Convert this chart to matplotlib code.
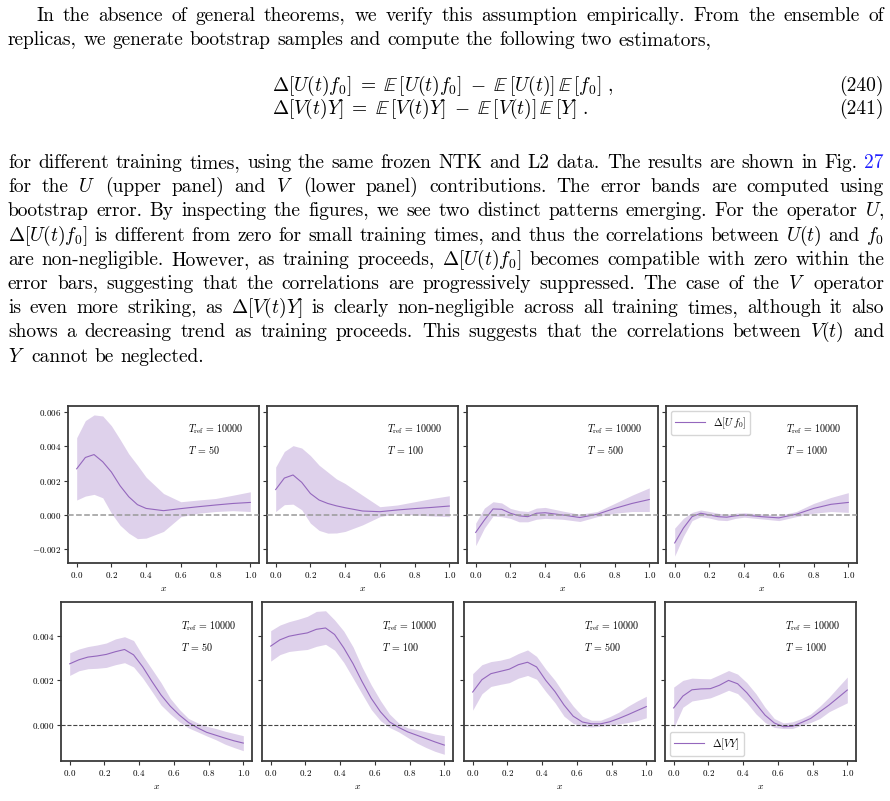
import matplotlib.pyplot as plt

plt.rcParams['font.family'] = 'cmr10'
plt.rcParams['mathtext.fontset'] = 'cm'
plt.rcParams['axes.formatter.use_mathtext'] = True

# ---- data ----
times = [50, 100, 500, 1000]

# upper row: Delta[U f0]
xu = [0.0, 0.05, 0.1, 0.15, 0.2, 0.25, 0.3, 0.35, 0.4, 0.5, 0.6, 0.7, 0.8, 0.9, 1.0]
u_mean = [
    [0.00269, 0.00335, 0.00352, 0.0031, 0.0025, 0.0017, 0.00106, 0.0006, 0.00038, 0.00025, 0.00037, 0.00048, 0.00058, 0.00067, 0.00073],
    [0.00148, 0.00215, 0.00233, 0.0019, 0.00125, 0.00087, 0.00067, 0.00053, 0.00042, 0.00023, 0.00019, 0.00029, 0.00037, 0.00044, 0.00052],
    [-0.00102, -0.0003, 0.00035, 0.00033, 0.0001, -0.00005, -0.0001, 0.0001, 0.00013, 0.0, -0.00015, 0.00004, 0.00038, 0.00067, 0.0009],
    [-0.00163, -0.00077, -0.0001, 0.0001, 0.0, -0.0001, -0.00013, -0.00005, 0.0, -0.0001, -0.00017, 0.00004, 0.00038, 0.00062, 0.00073],
]
u_up = [
    [0.0045, 0.0055, 0.00583, 0.00577, 0.0052, 0.0044, 0.00356, 0.0029, 0.0022, 0.00125, 0.00077, 0.00087, 0.00096, 0.00115, 0.00135],
    [0.00279, 0.0037, 0.00404, 0.0039, 0.00346, 0.0029, 0.0025, 0.0021, 0.00183, 0.00115, 0.00048, 0.00058, 0.00077, 0.00096, 0.00112],
    [-0.00048, 0.0004, 0.00077, 0.0007, 0.00038, 0.00025, 0.0002, 0.0004, 0.00044, 0.00023, 0.00004, 0.0002, 0.00067, 0.00115, 0.00158],
    [-0.00077, -0.0002, 0.00015, 0.00029, 0.0002, 0.0001, 0.00003, 0.0001, 0.00013, 0.00006, -0.00003, 0.0002, 0.00067, 0.00102, 0.0013],
]
u_lo = [
    [0.00087, 0.0011, 0.0012, 0.001, 0.0001, -0.0006, -0.00106, -0.00138, -0.00135, -0.00096, -0.0001, 0.0001, 0.0002, 0.00025, 0.0002],
    [0.0002, 0.0006, 0.00063, 0.0003, -0.00048, -0.0009, -0.00106, -0.00105, -0.00096, -0.00058, -0.0001, 0.0001, 0.0, -0.00006, -0.0001],
    [-0.00179, -0.00077, -0.00006, -0.0001, -0.0002, -0.0004, -0.0004, -0.00025, -0.0002, -0.00025, -0.00038, -0.0001, 0.0001, 0.0002, 0.0002],
    [-0.0024, -0.00125, -0.00033, -0.0001, -0.00018, -0.0003, -0.00033, -0.0002, -0.00013, -0.00023, -0.00033, -0.0001, 0.0001, 0.0002, 0.00015],
]

# lower row: Delta[V Y]
xv = [0.0, 0.053, 0.105, 0.158, 0.211, 0.263, 0.316, 0.368, 0.421, 0.474,
      0.526, 0.579, 0.632, 0.684, 0.737, 0.789, 0.842, 0.895, 0.947, 1.0]
v_mean = [
    [0.00274, 0.00292, 0.00304, 0.00309, 0.00316, 0.00328, 0.00338, 0.00314, 0.0026, 0.00195, 0.00135, 0.00085, 0.00045, 0.00012, -0.00012, -0.00032, -0.00045, -0.00058, -0.0007, -0.0008],
    [0.00353, 0.00381, 0.00397, 0.00405, 0.00412, 0.00428, 0.00434, 0.00405, 0.00345, 0.00275, 0.00195, 0.0012, 0.0006, 0.00015, -0.0001, -0.0003, -0.00045, -0.0006, -0.00075, -0.00089],
    [0.00148, 0.00203, 0.0023, 0.0024, 0.0025, 0.0027, 0.00281, 0.0026, 0.002, 0.0015, 0.0009, 0.0004, 0.00014, 0.00006, 0.00006, 0.00015, 0.0003, 0.00047, 0.00065, 0.00083],
    [0.00077, 0.0013, 0.00158, 0.00162, 0.00163, 0.00178, 0.002, 0.00185, 0.00145, 0.00095, 0.00045, 0.0001, -0.00007, -0.00005, 0.00012, 0.0003, 0.0006, 0.0009, 0.00123, 0.00157],
]
v_up = [
    [0.00323, 0.0034, 0.00351, 0.00358, 0.00367, 0.00385, 0.00395, 0.00378, 0.0031, 0.0025, 0.0019, 0.0012, 0.0007, 0.0003, 0.0001, -0.00005, -0.00015, -0.00027, -0.00037, -0.00047],
    [0.00422, 0.00447, 0.00462, 0.00473, 0.00486, 0.00508, 0.00511, 0.0047, 0.0042, 0.0035, 0.0026, 0.0018, 0.0011, 0.0005, 0.0001, -0.00012, -0.0002, -0.0003, -0.0004, -0.00047],
    [0.0023, 0.0027, 0.00284, 0.0029, 0.003, 0.0032, 0.00336, 0.00307, 0.0025, 0.002, 0.0014, 0.00085, 0.0004, 0.00022, 0.00022, 0.00038, 0.00058, 0.00085, 0.00108, 0.00129],
    [0.0017, 0.002, 0.0021, 0.00208, 0.00207, 0.00225, 0.00244, 0.00228, 0.0019, 0.0014, 0.0008, 0.0003, 0.0001, 0.00015, 0.0003, 0.0005, 0.00085, 0.00125, 0.0017, 0.00215],
]
v_lo = [
    [0.00222, 0.00243, 0.00252, 0.00254, 0.00258, 0.0027, 0.00279, 0.0026, 0.0021, 0.0015, 0.0009, 0.0005, 0.00015, -0.00012, -0.0003, -0.00048, -0.00065, -0.00085, -0.001, -0.00114],
    [0.00286, 0.00315, 0.00329, 0.00334, 0.00338, 0.00352, 0.00361, 0.00335, 0.0028, 0.0021, 0.0014, 0.0007, 0.0002, -0.0001, -0.0003, -0.00055, -0.0008, -0.001, -0.00117, -0.0013],
    [0.00067, 0.0014, 0.00173, 0.00182, 0.0019, 0.0021, 0.00222, 0.00205, 0.0015, 0.001, 0.0004, 0.00008, -0.00005, -0.00008, -0.00005, 0.0, 0.00005, 0.00012, 0.0002, 0.00033],
    [-0.00012, 0.0008, 0.00108, 0.00115, 0.00122, 0.00138, 0.00156, 0.00141, 0.001, 0.0005, 0.00012, -0.0001, -0.00015, -0.00015, 0.0, 0.00012, 0.0003, 0.0006, 0.0008, 0.001],
]

# ---- page text ----
para1 = [
    "In the absence of general theorems, we verify this assumption empirically. From the ensemble of",
    "replicas, we generate bootstrap samples and compute the following two estimators,",
]
equations = [
    (r"$\Delta[U(t)f_0] \;=\; \mathbb{E}\,[U(t)f_0] \;-\; \mathbb{E}\,[U(t)]\,\mathbb{E}\,[f_0]\ ,$", "(240)"),
    (r"$\Delta[V(t)Y] \;=\; \mathbb{E}\,[V(t)Y] \;-\; \mathbb{E}\,[V(t)]\,\mathbb{E}\,[Y]\ .$", "(241)"),
]
para2 = [
    "for different training times, using the same frozen NTK and L2 data. The results are shown in Fig. 27",
    r"for the $U$ (upper panel) and $V$ (lower panel) contributions. The error bands are computed using",
    r"bootstrap error. By inspecting the figures, we see two distinct patterns emerging. For the operator $U$,",
    r"$\Delta[U(t)f_0]$ is different from zero for small training times, and thus the correlations between $U(t)$ and $f_0$",
    r"are non-negligible. However, as training proceeds, $\Delta[U(t)f_0]$ becomes compatible with zero within the",
    r"error bars, suggesting that the correlations are progressively suppressed. The case of the $V$ operator",
    r"is even more striking, as $\Delta[V(t)Y]$ is clearly non-negligible across all training times, although it also",
    r"shows a decreasing trend as training proceeds. This suggests that the correlations between $V(t)$ and",
    r"$Y$ cannot be neglected.",
]

W, H = 890, 801
BODY = 14
LINK = '#2020ff'
PURPLE = '#9467bd'

fig = plt.figure(figsize=(W / 100, H / 100), dpi=100)
renderer = fig.canvas.get_renderer()


def fx(px):
    return px / W


def fy(py):
    return 1 - py / H


def text_line(line, y, x0, x1, justify):
    words = line.split(' ')
    objs = [fig.text(fx(x0), fy(y), w, fontsize=BODY, va='baseline',
                     color=LINK if w == '27' else 'black') for w in words]
    widths = [o.get_window_extent(renderer).width for o in objs]
    space = BODY * 100 / 72 * 0.333
    if justify and len(objs) > 1:
        space = (x1 - x0 - sum(widths)) / (len(objs) - 1)
    x = x0
    for o, w in zip(objs, widths):
        o.set_x(fx(x))
        x += w + space


text_line(para1[0], 21, 36, 884, True)
text_line(para1[1], 45, 8, 884, False)
for (eq, num), y in zip(equations, [91, 114]):
    fig.text(fx(272), fy(y), eq, fontsize=BODY, va='baseline')
    fig.text(fx(884), fy(y), num, fontsize=BODY, va='baseline', ha='right')
for i, line in enumerate(para2):
    text_line(line, 168 + i * 24.2, 8, 884, i < len(para2) - 1)


# ---- panels ----
def style(ax, zero_kw):
    ax.axhline(0, **zero_kw)
    ax.set_xlim(-0.05, 1.05)
    ax.set_xticks([0, 0.2, 0.4, 0.6, 0.8, 1.0])
    ax.set_xlabel('$x$', fontsize=7, labelpad=3)
    ax.tick_params(labelsize=6.5, length=3, width=0.8, color='#333333', pad=2)
    for s in ax.spines.values():
        s.set_linewidth(1.3)
        s.set_color('#3a3a3a')


rows = [
    (xu, u_mean, u_up, u_lo, [68, 267, 467, 666], 406, 563, (-0.0028, 0.00635),
     [-0.002, 0, 0.002, 0.004, 0.006], dict(color='#999999', ls='--', lw=1.1, zorder=3),
     r'$\Delta[U\,f_0]$', 'upper left', 3),
    (xv, v_mean, v_up, v_lo, [61, 262, 464, 665], 602, 761, (-0.0016, 0.0055),
     [0, 0.002, 0.004], dict(color='#444444', ls='--', lw=0.8, zorder=3),
     r'$\Delta[VY]$', 'lower left', 3),
]

for xs, mean, up, lo, lefts, top, bot, ylim, yt, zkw, lab, loc, leg_i in rows:
    for i, left in enumerate(lefts):
        ax = fig.add_axes([fx(left), fy(bot), 191 / W, (bot - top) / H])
        ax.fill_between(xs, lo[i], up[i], color=PURPLE, alpha=0.3, lw=0)
        ax.plot(xs, mean[i], color=PURPLE, lw=0.8, label=lab)
        style(ax, zkw)
        ax.set_ylim(*ylim)
        ax.set_yticks(yt)
        ax.yaxis.set_major_formatter(plt.FormatStrFormatter(r'$%.3f$'))
        if i > 0:
            ax.set_yticklabels([])
        ax.text(0.63, 0.85, r'$T_{\rm ref}$ = 10000', transform=ax.transAxes, fontsize=7.2, va='center')
        ax.text(0.63, 0.72, r'$T$ = %d' % times[i], transform=ax.transAxes, fontsize=7.2, va='center')
        if i == leg_i:
            ax.legend(loc=loc, fontsize=7.5, handlelength=2.8, framealpha=0.8, edgecolor='#cccccc')

fig.savefig('out.png', dpi=100)
